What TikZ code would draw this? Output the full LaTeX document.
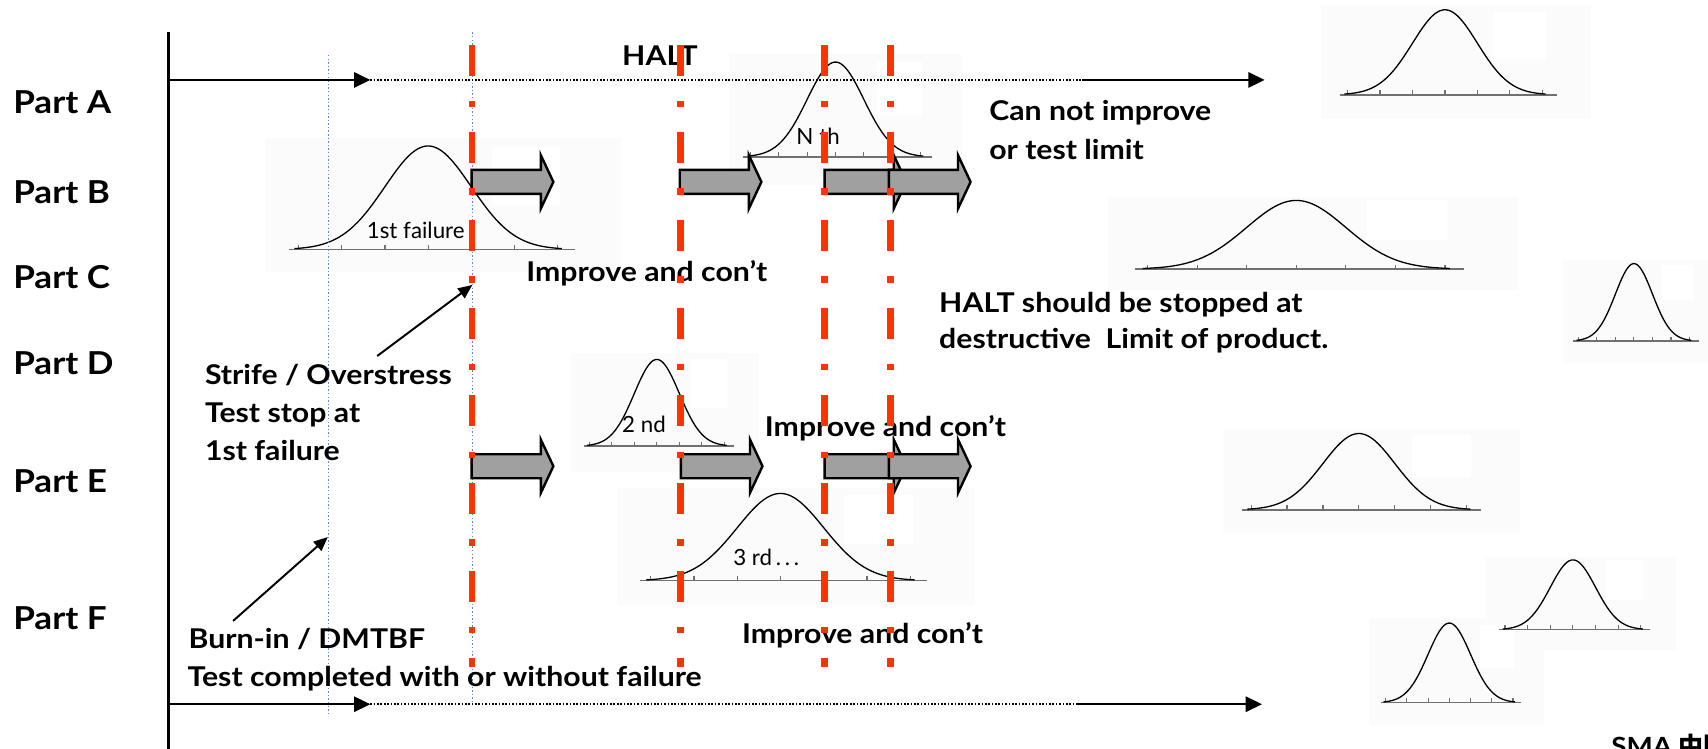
\documentclass[tikz,border=0pt]{standalone}
\usepackage{fontspec}
\setmainfont{Lato}
\newfontfamily\widefont{Lato}[FakeStretch=1.11]
\newfontfamily\cjkfont{Noto Sans CJK SC}
\usetikzlibrary{arrows.meta}
\definecolor{haltred}{HTML}{FF3300}
\definecolor{dotblue}{HTML}{5B8BC8}
\definecolor{blockgray}{HTML}{A0A0A0}
\definecolor{panelbg}{HTML}{FBFBFB}
\definecolor{axisgray}{HTML}{707070}
\newcommand\bellcurve[6]{%
  \draw[bellaxis] (#5,#4) -- (#6,#4);
  \foreach \k in {-3,...,3}{\draw[belltick] ({#1+(\k)*#2},#4) -- ++(0,-4);}
  \draw[bellline] plot[domain=-3.1:3.1, samples=90, variable=\t] ({#1+(\t)*#2},{#4-#3*exp(-0.5*(\t)*(\t))});
}
\tikzset{
  bellaxis/.style={axisgray, line width=1.4pt},
  belltick/.style={axisgray, line width=1pt},
  bellline/.style={black, line width=1.2pt, line join=round},
  blockstyle/.style={draw=black, line width=2.2pt, fill=blockgray, line join=miter},
  blockarrow/.pic={\draw[blockstyle] (0,-11) -- (63.5,-11) -- (63.5,-24.5) -- (75,0) -- (63.5,24.5) -- (63.5,11) -- (0,11) -- cycle;},
  redline/.style={haltred, line width=6pt, dash pattern=on 28.5pt off 23pt on 6pt off 23pt},
  blueline/.style={dotblue, line width=1.3pt, dash pattern=on 1.3pt off 2pt},
  mainline/.style={black, line width=2pt},
  dotline/.style={black, line width=1.6pt, dash pattern=on 1.5pt off 1.6pt},
  tip/.style={-{Triangle[length=15pt,width=14pt]}},
  pointer/.style={black, line width=1.8pt, -{Triangle[length=13pt,width=11pt]}},
  lbl/.style={font=\widefont\fontsize{25}{30}\selectfont\bfseries, inner sep=0pt, anchor=base west},
  partlbl/.style={font=\widefont\fontsize{29}{34}\selectfont\bfseries, inner sep=0pt, anchor=base west},
  thinlbl/.style={font=\fontsize{20.5}{25}\selectfont, inner sep=0pt, anchor=base west},
  smalllbl/.style={font=\widefont\fontsize{23}{28}\selectfont\bfseries, inner sep=0pt, anchor=base west},
}
\begin{document}
\begin{tikzpicture}[x=1pt,y=-1pt]
\useasboundingbox[fill=white] (0,0) rectangle (1568,687);
\clip (0,0) rectangle (1568,687);
% background panels of the curve pictures
\fill[panelbg] (243,127) rectangle (570,250);  \fill[white] (452,135) rectangle (514,188);
\fill[panelbg] (669,50) rectangle (883,170);   \fill[white] (805,57) rectangle (846,106);
\fill[panelbg] (1213,5) rectangle (1461,109);  \fill[white] (1371,11) rectangle (1419,54);
\fill[panelbg] (1017,181) rectangle (1394,266); \fill[white] (1255,184) rectangle (1328,220);
\fill[panelbg] (1435,239) rectangle (1568,333); \fill[white] (1526,243) rectangle (1554,275);
\fill[panelbg] (524,324) rectangle (697,433);  \fill[white] (634,330) rectangle (667,375);
\fill[panelbg] (566,448) rectangle (895,555);  \fill[white] (775,454) rectangle (838,499);
\fill[panelbg] (1123,394) rectangle (1395,489); \fill[white] (1296,399) rectangle (1350,438);
\fill[panelbg] (1364,511) rectangle (1539,597); \fill[white] (1474,514) rectangle (1508,551);
\fill[panelbg] (1257,567) rectangle (1417,666); \fill[white] (1359,574) rectangle (1390,613);
% bell curves
\bellcurve{393}{39.6}{95}{229}{265}{528}
\bellcurve{767}{26}{87}{144}{682}{856}
\bellcurve{1326.5}{29.8}{78}{87}{1230}{1429}
\bellcurve{1190}{45.5}{63}{247}{1042}{1344}
\bellcurve{1500}{17}{71}{313}{1444}{1560}
\bellcurve{603}{20.7}{79.5}{409.5}{536.5}{674}
\bellcurve{716.5}{39.7}{80}{533}{587.5}{851}
\bellcurve{1247.5}{33}{70}{468}{1140.6}{1359.6}
\bellcurve{1444}{20.8}{64}{578}{1376}{1515}
\bellcurve{1330.5}{19.5}{73}{645}{1267.5}{1396.5}
\node[thinlbl] (lab1st) at (336.6,219.4) {1st failure};
\node[thinlbl] (labNth) at (731,132.5) {N th};
\node[thinlbl] (lab2nd) at (571,397) {2 nd};
\node[thinlbl] (lab3rd) at (673,518.7) {3 rd\,.\,.\,.};
% blue dotted time lines
\coordinate (b1t) at (301.5,50.5); \coordinate (b1b) at (301.5,656);
\coordinate (b2t) at (433.5,29.7); \coordinate (b2b) at (433.5,645.6);
\draw[blueline] (b1t) -- (b1b);
\draw[blueline] (b2t) -- (b2b);
% vertical axis
\coordinate (axtop) at (155,29.7); \coordinate (axbot) at (155,700);
\draw[black, line width=2.5pt] (axtop) -- (axbot);
% horizontal arrows
\coordinate (a0) at (155,73.4); \coordinate (a1) at (340,73.4);
\coordinate (a2) at (993,73.4); \coordinate (a3) at (1161,73.4);
\draw[mainline, tip] (a0) -- (a1);
\draw[dotline] (a1) -- (a2);
\draw[mainline, tip] (a2) -- (a3);
\coordinate (c0) at (155,646.5); \coordinate (c1) at (340,646.5);
\coordinate (c2) at (990,646.5); \coordinate (c3) at (1158.6,646.5);
\draw[mainline, tip] (c0) -- (c1);
\draw[dotline] (c1) -- (c2);
\draw[mainline, tip] (c2) -- (c3);
% block arrows
\pic at (433,167) {blockarrow};
\pic at (624,167) {blockarrow};
\pic at (757,167) {blockarrow};
\pic at (816,167) {blockarrow};
\pic at (433,428) {blockarrow};
\pic at (625,428) {blockarrow};
\pic at (757,428) {blockarrow};
\pic at (816,428) {blockarrow};
% labels
\node[partlbl] (pA) at (12,104) {Part A};
\node[partlbl] (pB) at (12,186.6) {Part B};
\node[partlbl] (pC) at (12,264.7) {Part C};
\node[partlbl] (pD) at (12,343.4) {Part D};
\node[partlbl] (pE) at (12,452.3) {Part E};
\node[partlbl] (pF) at (12,577.6) {Part F};
\node[lbl] (halt) at (571,60.3) {HALT};
\node[lbl] (cn1) at (908,110.8) {Can not improve};
\node[lbl] (cn2) at (908,146) {or test limit};
\node[lbl] (imp1) at (483,258.7) {Improve and con’t};
\node[lbl] (hs1) at (862,287) {HALT should be stopped at};
\node[lbl] (hs2) at (862,320) {destructive\ \ Limit of product.};
\node[lbl] (st1) at (188,353.4) {Strife / Overstress};
\node[lbl] (st2) at (188,388) {Test stop at};
\node[lbl] (st3) at (188,423) {1st failure};
\node[lbl] (imp2) at (702,401) {Improve and con’t};
\node[lbl] (imp3) at (681,590.5) {Improve and con’t};
\node[lbl] (bi1) at (173,595) {Burn-in / DMTBF};
\node[lbl] (bi2) at (172,630.4) {Test completed with or without failure};
\node[smalllbl] (sma) at (1479,694) {SMA {\cjkfont 中国}};
% pointer arrows
\coordinate (p1s) at (346.3,326.8); \coordinate (p1e) at (433.6,261.6);
\draw[pointer] (p1s) -- (p1e);
\coordinate (p2s) at (214,570); \coordinate (p2e) at (301,493);
\draw[pointer] (p2s) -- (p2e);
% red HALT limit lines
\foreach \x in {433.5,624.5,757,817.5}{\draw[redline] (\x,41) -- (\x,612);}
\end{tikzpicture}
\end{document}
